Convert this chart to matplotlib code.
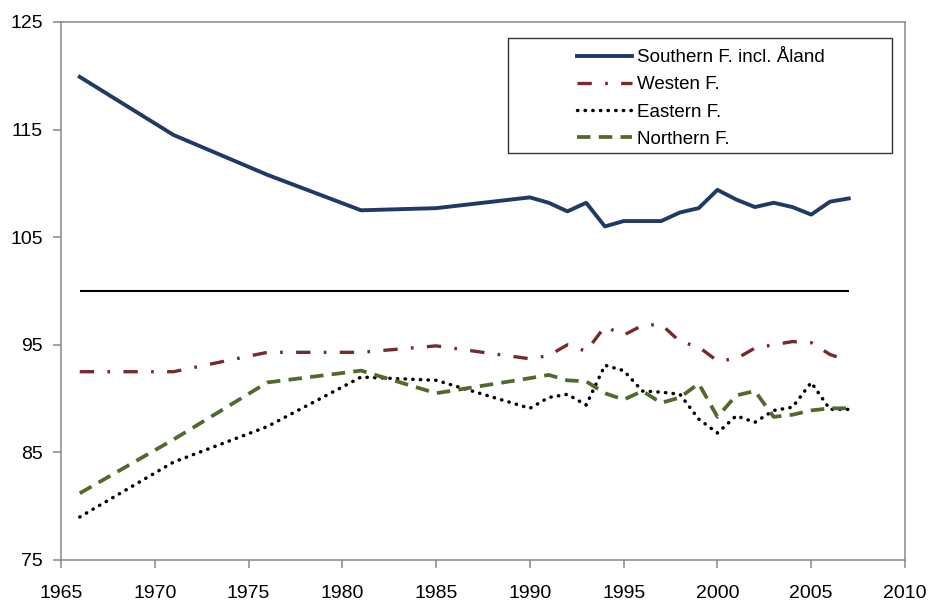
import matplotlib
matplotlib.use("Agg")
import matplotlib.pyplot as plt
from matplotlib.patches import Rectangle

plt.rcParams['font.family'] = ['Liberation Sans', 'DejaVu Sans']

years = [1966, 1971, 1976, 1981, 1985, 1990, 1991, 1992, 1993, 1994, 1995, 1996,
         1997, 1998, 1999, 2000, 2001, 2002, 2003, 2004, 2005, 2006, 2007]

southern = [119.9, 114.5, 110.8, 107.5, 107.7, 108.7, 108.2, 107.4, 108.2, 106.0, 106.5, 106.5,
            106.5, 107.3, 107.7, 109.4, 108.5, 107.8, 108.2, 107.8, 107.1, 108.3, 108.6]
western = [92.5, 92.5, 94.3, 94.3, 94.9, 93.7, 94.0, 95.0, 94.4, 96.7, 95.9, 96.8,
           96.9, 95.3, 94.8, 93.5, 93.7, 94.7, 95.0, 95.3, 95.2, 94.1, 93.5]
eastern = [79.0, 84.1, 87.4, 92.0, 91.7, 89.1, 90.1, 90.4, 89.4, 93.1, 92.6, 90.7,
           90.6, 90.4, 88.1, 86.8, 88.4, 87.8, 88.9, 89.2, 91.5, 89.0, 89.0]
northern = [81.2, 86.2, 91.5, 92.6, 90.5, 91.9, 92.2, 91.7, 91.6, 90.5, 89.9, 90.7,
            89.6, 90.1, 91.4, 88.3, 90.3, 90.7, 88.3, 88.5, 88.9, 89.1, 89.1]
reference_level = 100

labels = ["Southern F. incl. Åland", "Westen F.", "Eastern F.", "Northern F."]
x_ticks = [1965, 1970, 1975, 1980, 1985, 1990, 1995, 2000, 2005, 2010]
y_ticks = [75, 85, 95, 105, 115, 125]

fig = plt.figure(figsize=(9.31, 6.06), dpi=100)
ax = fig.add_axes([61/931, 46/606, (905-61)/931, (560-22)/606])

ax.hlines(reference_level, years[0], years[-1], colors='black', linewidth=1.5, zorder=2)

l1, = ax.plot(years, southern, color='#1F3A64', linewidth=2.8, label=labels[0], zorder=3)
l2, = ax.plot(years, western, color='#762A2A', linewidth=2.4, linestyle=(0, (4.3, 4, 0.8, 4)),
              label=labels[1], zorder=3)
l3, = ax.plot(years, eastern, color='black', linewidth=2.5, linestyle=(0, (0.1, 2.1)),
              dash_capstyle='round', label=labels[2], zorder=3)
l4, = ax.plot(years, northern, color='#4F6A2A', linewidth=2.7, linestyle=(0, (3.6, 2.2)),
              label=labels[3], zorder=3)

ax.set_xlim(1965, 2010)
ax.set_ylim(75, 125)
ax.set_xticks(x_ticks)
ax.set_yticks(y_ticks)
for s in ax.spines.values():
    s.set_color('#878787')
    s.set_linewidth(1.1)
ax.tick_params(axis='both', direction='out', length=6, width=1.1, color='#878787',
               labelsize=14, labelcolor='black')
ax.tick_params(axis='x', pad=12)
ax.tick_params(axis='y', pad=7)

# legend box
bx0, bx1 = (508 - 61) / 844, (892 - 61) / 844
by0, by1 = (560 - 153) / 538, (560 - 38) / 538
ax.add_patch(Rectangle((bx0, by0), bx1 - bx0, by1 - by0, transform=ax.transAxes,
                       facecolor='white', edgecolor='#333333', linewidth=1.0, zorder=4))
leg = ax.legend(handles=[l1, l2, l3, l4], loc='upper left',
                bbox_to_anchor=((580 - 61) / 844 - 0.004, (560 - 49) / 538),
                frameon=False, fontsize=13.5, handlelength=2.95, handletextpad=0.25,
                labelspacing=0.54, borderpad=0.0, borderaxespad=0.0)
leg.set_zorder(5)

fig.savefig('out.png', dpi=100)
